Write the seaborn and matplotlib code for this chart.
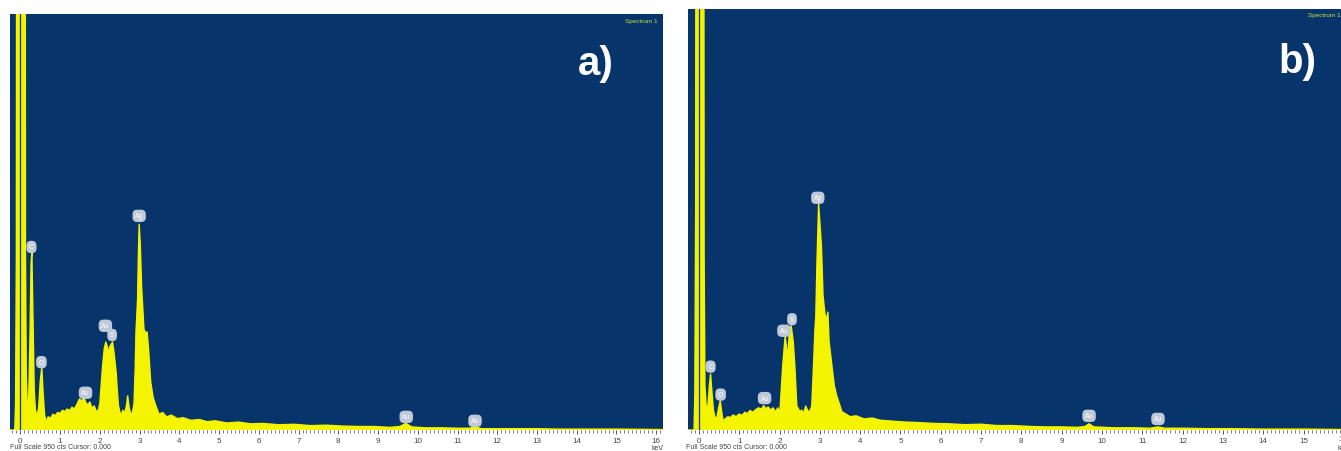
import matplotlib
matplotlib.use("Agg")
import matplotlib.pyplot as plt
from matplotlib.ticker import MultipleLocator
import pandas as pd
import seaborn as sns

sns.set_style("white")
plt.rcParams["font.family"] = ["Liberation Sans", "DejaVu Sans"]

# ---------------- data ----------------
energy_a = [-0.26, -0.14, -0.12, -0.10, -0.08, 0.11, 0.13, 0.15, 0.18, 0.21, 0.24, 0.27, 0.29, 0.32, 0.35,
            0.38, 0.42, 0.46, 0.50, 0.54, 0.57, 0.61, 0.65, 0.70, 0.76, 0.82, 0.88, 0.94, 1.00, 1.06,
            1.12, 1.18, 1.24, 1.30, 1.36, 1.42, 1.49, 1.55, 1.60, 1.65, 1.70, 1.75, 1.80, 1.86, 1.92,
            1.96, 2.00, 2.04, 2.07, 2.11, 2.15, 2.19, 2.22, 2.26, 2.32, 2.36, 2.41, 2.44, 2.47, 2.53,
            2.58, 2.62, 2.67, 2.70, 2.74, 2.78, 2.82, 2.86, 2.89, 2.91, 2.95, 2.97, 2.99, 3.02, 3.05,
            3.08, 3.11, 3.15, 3.19, 3.23, 3.28, 3.34, 3.41, 3.49, 3.58, 3.68, 3.80, 3.95, 4.10, 4.30,
            4.50, 4.70, 4.90, 5.20, 5.50, 5.80, 6.10, 6.50, 6.90, 7.30, 7.70, 8.10, 8.50, 8.90, 9.30,
            9.55, 9.70, 9.85, 10.2, 10.6, 11.0, 11.3, 11.45, 11.6, 12.0, 12.5, 13.0, 13.5, 14.0, 15.0, 16.2]
counts_a = [0, 0, 60, 400, 3000, 3000, 400, 120, 50, 70, 200, 380, 406, 250, 90,
            45, 32, 50, 110, 144, 90, 35, 18, 30, 27, 36, 33, 40, 38, 45,
            42, 48, 44, 52, 48, 58, 71, 66, 74, 62, 58, 64, 50, 55, 41,
            45, 60, 110, 146, 185, 201, 190, 178, 192, 201, 175, 132, 90, 55, 32,
            45, 38, 55, 78, 50, 36, 40, 60, 140, 224, 299, 400, 470, 420, 330,
            280, 230, 222, 224, 180, 110, 75, 55, 36, 40, 30, 34, 26, 28, 22,
            24, 19, 21, 16, 18, 14, 15, 12, 13, 10, 11, 9, 8, 8, 6,
            8, 15, 7, 5, 5, 4, 4, 7, 3, 3, 3, 3, 2, 2, 2, 1]

energy_b = [-0.27, -0.12, -0.10, -0.08, -0.06, 0.11, 0.13, 0.15, 0.19, 0.23, 0.26, 0.29, 0.32, 0.36, 0.41,
            0.45, 0.49, 0.53, 0.56, 0.60, 0.65, 0.72, 0.78, 0.85, 0.92, 1.00, 1.07, 1.14, 1.20, 1.27,
            1.34, 1.41, 1.48, 1.55, 1.61, 1.66, 1.72, 1.78, 1.84, 1.90, 1.96, 2.01, 2.05, 2.08, 2.14,
            2.20, 2.25, 2.29, 2.34, 2.38, 2.43, 2.51, 2.55, 2.60, 2.65, 2.70, 2.75, 2.80, 2.83, 2.88,
            2.90, 2.93, 2.97, 3.00, 3.04, 3.08, 3.13, 3.17, 3.20, 3.23, 3.30, 3.36, 3.42, 3.55, 3.65,
            3.75, 3.90, 4.10, 4.30, 4.50, 4.80, 5.10, 5.40, 5.80, 6.20, 6.60, 7.00, 7.40, 7.80, 8.20,
            8.60, 9.00, 9.40, 9.58, 9.68, 9.80, 10.3, 10.8, 11.2, 11.39, 11.55, 12.0, 12.6, 13.2, 14.0,
            15.0, 16.0]
counts_b = [0, 0, 80, 500, 3000, 3000, 400, 100, 41, 60, 100, 126, 90, 45, 25,
            30, 50, 66, 45, 20, 25, 30, 28, 34, 30, 36, 33, 40, 37, 44,
            40, 46, 50, 47, 55, 48, 52, 45, 50, 41, 50, 41, 100, 145, 212,
            165, 225, 235, 200, 145, 54, 41, 45, 38, 54, 44, 41, 54, 115, 228,
            255, 380, 510, 470, 416, 303, 260, 250, 266, 200, 145, 100, 77, 41, 36,
            30, 32, 25, 27, 22, 20, 18, 17, 15, 14, 12, 13, 10, 10, 8,
            7, 7, 6, 8, 14, 7, 5, 5, 4, 7, 4, 4, 3, 3, 2,
            2, 1]

label_sym_a = ["C", "O", "Au", "Au", "S", "Ag", "Au", "Au"]
label_x_a = [0.28, 0.53, 1.64, 2.14, 2.31, 2.99, 9.71, 11.44]
label_y_a = [418, 155, 85, 238, 217, 489, 30, 21]

label_sym_b = ["C", "O", "Au", "Au", "S", "Ag", "Au", "Au"]
label_x_b = [0.29, 0.54, 1.63, 2.11, 2.31, 2.95, 9.68, 11.39]
label_y_b = [143, 80, 72, 224, 250, 524, 32, 25]

tick_values = list(range(0, 17))
tick_labels = [str(v) for v in tick_values]
panel_names = ["a)", "b)"]
full_scale = 950

# ---------------- style ----------------
W, H = 1341, 452
BG = "#07346a"
YEL = "#f4f400"
BUB = "#bfc9d8"

fig = plt.figure(figsize=(W / 100, H / 100), dpi=100)
fig.patch.set_facecolor("white")

panels = [
    dict(rect=(10, 15, 663, 431), xlim=(-0.26, 16.17), e=energy_a, c=counts_a,
         ls=label_sym_a, lx=label_x_a, ly=label_y_a, name=panel_names[0], name_px=(596, 64),
         spec_px=(658, 21), fs_px=(10, 448), kev_px=(657, 449)),
    dict(rect=(688, 10, 1341, 431), xlim=(-0.27, 15.93), e=energy_b, c=counts_b,
         ls=label_sym_b, lx=label_x_b, ly=label_y_b, name=panel_names[1], name_px=(1297, 62),
         spec_px=(1341, 16), fs_px=(686, 448), kev_px=(1343, 449)),
]

for p in panels:
    x0, y0, x1, y1 = p["rect"]
    ax = fig.add_axes([x0 / W, 1 - y1 / H, (x1 - x0) / W, (y1 - y0) / H])
    ax.set_facecolor(BG)
    df = pd.DataFrame({"keV": p["e"], "counts": p["c"]})
    ax.fill_between(df["keV"], 0, df["counts"], color=YEL, lw=0, zorder=2)
    sns.lineplot(data=df, x="keV", y="counts", ax=ax, color=YEL, lw=1.0, zorder=3)
    ax.axvline(0, color=BG, lw=0.9, zorder=4)
    ax.set_xlim(*p["xlim"])
    ax.set_ylim(0, full_scale)
    ax.set_xlabel("")
    ax.set_ylabel("")
    ax.set_yticks([])
    ax.set_xticks([v for v in tick_values if p["xlim"][0] <= v <= p["xlim"][1]])
    ax.set_xticklabels([l for v, l in zip(tick_values, tick_labels) if p["xlim"][0] <= v <= p["xlim"][1]])
    ax.xaxis.set_minor_locator(MultipleLocator(0.1))
    ax.tick_params(axis="x", which="major", direction="out", length=3.2, width=0.7,
                   color="#555555", labelsize=5.8, labelcolor="#444444", pad=1.5, bottom=True)
    ax.tick_params(axis="x", which="minor", direction="out", length=2.2, width=0.6,
                   color="#666666", bottom=True)
    for s in ax.spines.values():
        s.set_visible(False)

    for sym, lx, ly in zip(p["ls"], p["lx"], p["ly"]):
        ax.text(lx, ly, sym, ha="center", va="center", fontsize=4.8, color="white", zorder=6,
                bbox=dict(boxstyle="round,pad=0.4,rounding_size=0.7", fc=BUB, ec="none"))

    nx, ny = p["name_px"]
    fig.text(nx / W, 1 - ny / H, p["name"], ha="center", va="center", color="white",
             fontsize=29, fontweight="bold")
    sx, sy = p["spec_px"]
    fig.text(sx / W, 1 - sy / H, "Spectrum 1", ha="right", va="center", color="#c6e43a", fontsize=4.6)
    fx, fy = p["fs_px"]
    fig.text(fx / W, 1 - fy / H, "Full Scale 950 cts Cursor: 0.000", ha="left", va="center",
             color="#444444", fontsize=5.0)
    kx, ky = p["kev_px"]
    fig.text(kx / W, 1 - ky / H, "keV", ha="center", va="center", color="#444444", fontsize=5.0)

# partial "16" tick label at the clipped right edge of panel b
fig.text(1343 / W, 1 - 440 / H, "16", ha="center", va="center", color="#444444", fontsize=5.8)

fig.savefig("out.png", dpi=100, facecolor="white")
